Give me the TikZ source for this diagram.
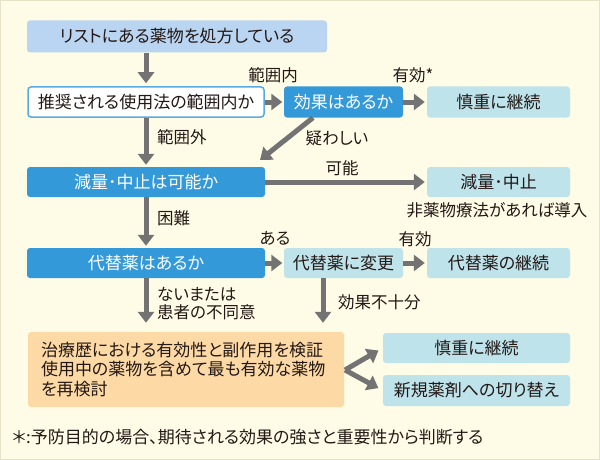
\documentclass[tikz,border=0pt]{standalone}
\usepackage{fontspec}
\setmainfont{Noto Sans CJK JP}[RawFeature=+palt]
\usetikzlibrary{arrows.meta}
\definecolor{bg}{HTML}{FEFCE6}
\definecolor{frame}{HTML}{E6E2C8}
\definecolor{topblue}{HTML}{B9D5F1}
\definecolor{qblue}{HTML}{3399D8}
\definecolor{qborder}{HTML}{5AAAE2}
\definecolor{rcyan}{HTML}{BEE3EB}
\definecolor{rorange}{HTML}{FCD9A5}
\definecolor{arrgray}{HTML}{737373}
\definecolor{txt}{HTML}{231815}
\tikzset{
  box/.style={rectangle, rounded corners=3pt, inner sep=0pt, text=txt, font=\fontsize{17}{19}\selectfont},
  qbox/.style={box, fill=qblue, text=white},
  rbox/.style={box, fill=rcyan},
  lbl/.style={inner sep=0pt, text=txt, font=\fontsize{16.5}{18}\selectfont},
  arr/.style={draw=arrgray, line width=5pt, -{Triangle[width=16pt,length=11pt]}},
}
\begin{document}
\begin{tikzpicture}[x=1pt,y=-1pt]
\fill[bg] (0,0) rectangle (600,460);
\draw[frame, line width=1pt] (0.5,0.5) rectangle (599.5,459.5);
\useasboundingbox (0,0) rectangle (600,460);

\node[box, fill=topblue, minimum width=300pt, minimum height=32pt] (top) at (177,36.5) {リストにある薬物を処方している};
\node[box, fill=white, draw=qborder, line width=1.5pt, minimum width=236pt, minimum height=30pt] (q1) at (146,102) {推奨される使用法の範囲内か};
\node[qbox, minimum width=119pt, minimum height=31pt] (q2) at (343.5,102) {効果はあるか};
\node[rbox, minimum width=143pt, minimum height=31pt] (r1) at (498.5,102) {慎重に継続};
\node[qbox, minimum width=238pt, minimum height=30pt] (q3) at (146,182) {減量･中止は可能か};
\node[rbox, minimum width=143pt, minimum height=30pt] (r2) at (498.5,182) {減量･中止};
\node[qbox, minimum width=238pt, minimum height=30pt] (q4) at (146,263) {代替薬はあるか};
\node[rbox, minimum width=119pt, minimum height=30pt] (q5) at (343.5,263) {代替薬に変更};
\node[rbox, minimum width=143pt, minimum height=30pt] (r3) at (498.5,263) {代替薬の継続};
\node[box, fill=rorange, minimum width=316pt, minimum height=75pt, text width=290pt, align=left, font=\fontsize{17}{19.5}\selectfont] (rev) at (186,369.5) {治療歴における有効性と副作用を検証\\使用中の薬物を含めて最も有効な薬物\\を再検討};
\node[rbox, minimum width=187pt, minimum height=30pt] (r4) at (476.5,348) {慎重に継続};
\node[rbox, minimum width=187pt, minimum height=31pt] (r5) at (476.5,390.5) {新規薬剤への切り替え};

\coordinate (d) at (260,160);
\coordinate (fork) at (345,370);

\draw[arr, shorten >=3pt] (q1.north |- top.south) -- (q1.north);
\draw[arr, shorten >=1.5pt] (q1.east) -- (q2.west);
\draw[arr, shorten >=2pt] (q2.east) -- (r1.west);
\draw[arr, shorten >=2pt] (q1.south) -- (q3.north);
\draw[arr] ([xshift=-30.5pt]q2.south) -- (d);
\draw[arr, shorten >=2pt] (q3.east) -- (r2.west);
\draw[arr, shorten >=2pt] (q3.south) -- (q4.north);
\draw[arr, shorten >=1.5pt] (q4.east) -- (q5.west);
\draw[arr, shorten >=2pt] (q5.east) -- (r3.west);
\draw[arr, shorten >=9pt] (q4.south) -- (q4.south |- rev.north);
\draw[arr, shorten >=9pt] ([xshift=-20.5pt]q5.south) -- ([xshift=-20.5pt]q5.south |- rev.north);
\draw[arr, shorten >=5pt] (fork) -- (r4.west);
\draw[arr, shorten >=5pt] (fork) -- (r5.west);

\node[lbl] (l1) at (273,75) {範囲内};
\node[lbl] (l2) at (413,75) {有効*};
\node[lbl, anchor=west] (l3) at (157,137) {範囲外};
\node[lbl] (l4) at (337,138) {疑わしい};
\node[lbl] (l5) at (342,168) {可能};
\node[lbl] (l6) at (497,210) {非薬物療法があれば導入};
\node[lbl, anchor=west] (l7) at (157,218) {困難};
\node[lbl] (l8) at (275,238) {ある};
\node[lbl] (l9) at (415,239) {有効};
\node[lbl, anchor=west, align=left, font=\fontsize{16.5}{18}\selectfont] (l10) at (157,304) {ないまたは\\患者の不同意};
\node[lbl, anchor=west] (l11) at (338,302) {効果不十分};
\node[lbl, anchor=west, font=\fontsize{17}{18}\selectfont] (fn) at (12,437) {＊:予防目的の場合、期待される効果の強さと重要性から判断する};
\end{tikzpicture}
\end{document}
